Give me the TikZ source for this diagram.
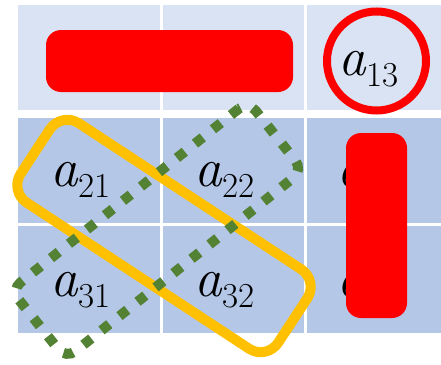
\documentclass[tikz,border=0pt]{standalone}
\definecolor{cellA}{HTML}{DAE3F3}
\definecolor{cellB}{HTML}{B4C7E7}
\definecolor{hired}{HTML}{FF0000}
\definecolor{hiyel}{HTML}{FFC000}
\definecolor{higrn}{HTML}{548235}
\newcommand{\entry}[1]{{\fontsize{55}{55}\selectfont\itshape a}\kern1pt\raisebox{-11pt}{\fontsize{35}{35}\selectfont #1}}
\begin{document}
\begin{tikzpicture}[x=1pt,y=-1pt,
  lbl/.style={inner sep=0pt, anchor=base west},
  redbar/.style={fill=hired, rounded corners=15pt, inner sep=0pt},
  cellbox/.style={inner sep=0pt, outer sep=0pt, anchor=north west}]
\useasboundingbox (0,0) rectangle (441,364);
% cells
\node[cellbox, fill=cellA, minimum width=142pt, minimum height=105pt] (c11) at (18,5) {};
\node[cellbox, fill=cellA, minimum width=141pt, minimum height=105pt] (c12) at (163,5) {};
\node[cellbox, fill=cellA, minimum width=134pt, minimum height=105pt] (c13) at (307,5) {};
\node[cellbox, fill=cellB, minimum width=142pt, minimum height=105pt] (c21) at (18,118) {};
\node[cellbox, fill=cellB, minimum width=141pt, minimum height=105pt] (c22) at (163,118) {};
\node[cellbox, fill=cellB, minimum width=134pt, minimum height=105pt] (c23) at (307,118) {};
\node[cellbox, fill=cellB, minimum width=142pt, minimum height=107pt] (c31) at (18,226) {};
\node[cellbox, fill=cellB, minimum width=141pt, minimum height=107pt] (c32) at (163,226) {};
\node[cellbox, fill=cellB, minimum width=134pt, minimum height=107pt] (c33) at (307,226) {};
% texts
\node[lbl] (t13) at (338,75) {\entry{13}};
\node[lbl] (t21) at (50,186) {\entry{21}};
\node[lbl] (t22) at (194,186) {\entry{22}};
\node[lbl] (t23) at (337,186) {\entry{23}};
\node[lbl] (t31) at (50,296) {\entry{31}};
\node[lbl] (t32) at (194,296) {\entry{32}};
\node[lbl] (t33) at (337,296) {\entry{33}};
% red marks
\node[redbar, minimum width=247pt, minimum height=62pt] (r1) at (169.5,61) {};
\node[redbar, minimum width=61pt, minimum height=185pt] (r3) at (376.5,225.5) {};
\node[draw=hired, line width=8pt, circle, minimum size=99pt, inner sep=0pt] (o13) at (376.5,61) {};
% yellow diagonal
\node[draw=hiyel, line width=10pt, rounded corners=21pt, minimum width=308pt, minimum height=95pt, inner sep=0pt, rotate=-33.3] (yb) at (164,236) {};
% green dotted anti-diagonal
\node[draw=higrn, line width=10pt, dash pattern=on 10pt off 13pt, rounded corners=12pt, minimum width=303pt, minimum height=88pt, inner sep=0pt, rotate=38.5] (gb) at (157,230) {};
\end{tikzpicture}
\end{document}
